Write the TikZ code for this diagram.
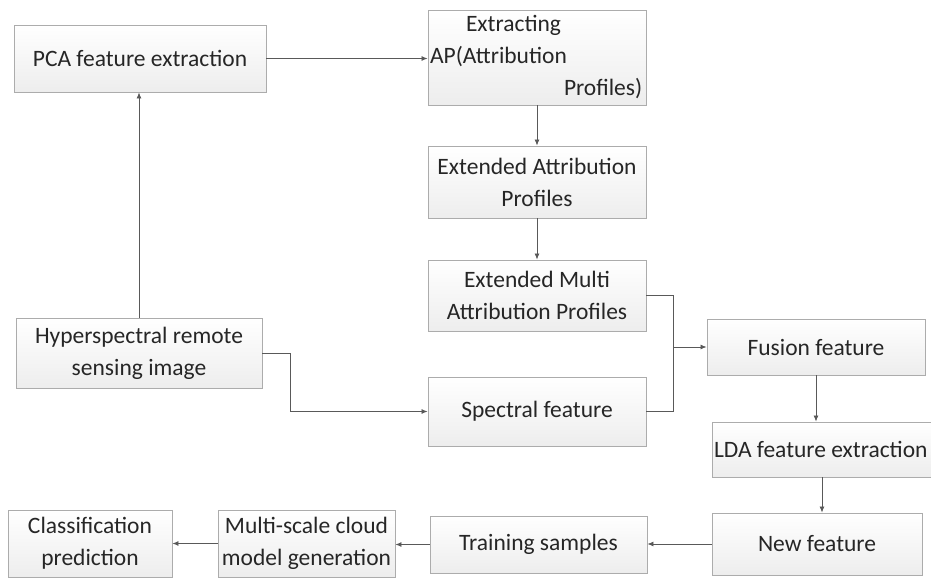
\documentclass[tikz,border=0pt]{standalone}
\usepackage{fontspec}
\setmainfont{Carlito}
\usetikzlibrary{arrows.meta,shadows}
\begin{document}
\begin{tikzpicture}[x=1pt,y=-1pt,
  box/.style={draw=gray!65, line width=0.9pt, top color=white, bottom color=gray!14,
    inner sep=0pt, align=center, font=\fontsize{23.5}{32}\selectfont, text=black!85,
    drop shadow={opacity=0.18, shadow xshift=1.2pt, shadow yshift=-1.2pt}},
  conn/.style={draw=gray!70!black, line width=0.8pt},
  arr/.style={conn, -{Latex[length=6pt,width=5pt]}}]
\useasboundingbox (0,0) rectangle (931,579);
\node[box, minimum width=252pt, minimum height=67pt] (pca) at (140,58.5) {PCA feature extraction};
\node[box, minimum width=218pt, minimum height=95pt, text width=214pt, align=left] (ext) at (537,57.5)
  {\hspace*{36pt}Extracting\\AP(Attribution\\\hspace*{134pt}Profiles)};
\node[box, minimum width=218pt, minimum height=72pt] (eap) at (537,182) {Extended Attribution\\Profiles};
\node[box, minimum width=218pt, minimum height=71pt] (emap) at (537,295.5) {Extended Multi\\Attribution Profiles};
\node[box, minimum width=218pt, minimum height=69pt] (spec) at (537,411.5) {Spectral feature};
\node[box, minimum width=246pt, minimum height=70pt] (hyp) at (139,353) {Hyperspectral remote\\sensing image};
\node[box, minimum width=218pt, minimum height=56pt] (fus) at (816,347) {Fusion feature};
\node[box, minimum width=232pt, minimum height=55pt] (lda) at (828,449.5) {\makebox[228pt][l]{LDA feature extraction}};
\node[box, minimum width=210pt, minimum height=62pt] (newf) at (817,544) {New feature};
\node[box, minimum width=217pt, minimum height=57pt] (train) at (538.5,544.5) {Training samples};
\node[box, minimum width=177pt, minimum height=67pt] (multi) at (306.5,543.5) {Multi-scale cloud\\model generation};
\node[box, minimum width=164pt, minimum height=67pt] (cls) at (90,543.5) {Classification\\prediction};
\coordinate (j) at (673,347);
\draw[arr] (pca.east) -- (pca.east -| ext.west);
\draw[arr] (hyp.north) -- (hyp.north |- pca.south);
\draw[arr] (ext.south) -- (eap.north);
\draw[arr] (eap.south) -- (emap.north);
\draw[conn] (emap.east) -- (emap.east -| j) -- (spec.east -| j) -- (spec.east);
\draw[arr] (j) -- (j -| fus.west);
\draw[arr] (hyp.east) -- ++(28,0) |- (spec.west);
\draw[arr] (fus.south) -- (fus.south |- lda.north);
\path (lda.south) ++(-6,0) coordinate (ln);
\draw[arr] (ln) -- (ln |- newf.north);
\draw[arr] (newf.west) -- (newf.west -| train.east);
\draw[arr] (train.west) -- (train.west -| multi.east);
\draw[arr] (multi.west) -- (multi.west -| cls.east);
\end{tikzpicture}
\end{document}
